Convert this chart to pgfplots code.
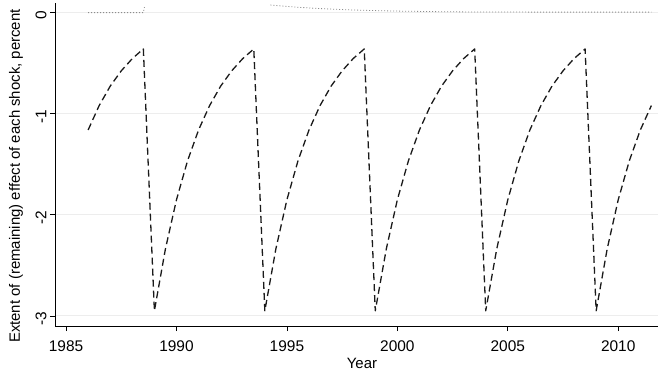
\documentclass[border=0pt]{standalone}
\usepackage{pgfplots}
\pgfplotsset{compat=1.18}
\usepackage{fontspec}
\setmainfont{Liberation Sans}
\definecolor{gridc}{HTML}{EDEDED}
\definecolor{dashc}{HTML}{1A1A1A}
\definecolor{dotc}{HTML}{8C8C8C}
\begin{document}
\begin{tikzpicture}
\useasboundingbox (-55bp,-48bp) rectangle (603bp,326bp);
\begin{axis}[
  scale only axis,
  width=603bp, height=323bp,
  xmin=1984.5, xmax=2011.8,
  ymin=-3.1, ymax=0.09,
  axis x line*=bottom, axis y line*=left,
  axis line style={black, line width=0.9bp, -},
  xtick={1985,1990,...,2010},
  ytick={-3,-2,-1,0},
  tick align=outside,
  major tick length=5bp,
  tick style={black, line width=0.7bp},
  ymajorgrids,
  grid style={gridc, line width=0.8bp},
  /pgf/number format/assume math mode=true,
  /pgf/number format/1000 sep={},
  ticklabel style={font=\fontsize{15.5}{18}\selectfont},
  xticklabel style={yshift=-6bp},
  yticklabel style={rotate=90, anchor=south, xshift=-3bp},
  xlabel={Year},
  ylabel={Extent of (remaining) effect of each shock, percent},
  label style={font=\fontsize{15}{18}\selectfont},
  xlabel style={at={(axis description cs:0.509,-0.1146)}, anchor=center},
  ylabel style={at={(axis description cs:-0.0647,0.464)}, anchor=center, rotate=0},
  clip=false,
]
% dotted series (near zero)
\addplot[dotc, line width=0.8bp, dash pattern=on 1bp off 2bp] coordinates {
 (1986.0,-0.005) (1986.5,-0.005) (1987.0,-0.005) (1987.5,-0.005) (1988.0,-0.005) (1988.5,-0.005) (1988.55,0.05)
};
\addplot[dotc, line width=0.8bp, dash pattern=on 1bp off 2bp] coordinates {
 (1994.25,0.070) (1994.5,0.065) (1995.0,0.056) (1995.5,0.048) (1996.0,0.041) (1996.5,0.035)
 (1997.0,0.030) (1997.5,0.025) (1998.0,0.021) (1998.5,0.018) (1999.0,0.015) (2000.0,0.010)
 (2001.0,0.007) (2002.0,0.004) (2003.0,0.002) (2004.0,0.001) (2006.0,0.0) (2011.5,0.0)
};
% dashed sawtooth series
\addplot[dashc, line width=1.3bp, line join=round, line cap=butt, dash pattern=on 7bp off 4bp] coordinates {
 (1986.0,-1.164) (1986.5,-0.923) (1987.0,-0.731) (1987.5,-0.580) (1988.0,-0.459) (1988.5,-0.364)
 (1989.0,-2.950) (1989.5,-2.338) (1990.0,-1.853) (1990.5,-1.469) (1991.0,-1.164) (1991.5,-0.923)
 (1992.0,-0.731) (1992.5,-0.580) (1993.0,-0.459) (1993.5,-0.364)
 (1994.0,-2.950) (1994.5,-2.338) (1995.0,-1.853) (1995.5,-1.469) (1996.0,-1.164) (1996.5,-0.923)
 (1997.0,-0.731) (1997.5,-0.580) (1998.0,-0.459) (1998.5,-0.364)
 (1999.0,-2.950) (1999.5,-2.338) (2000.0,-1.853) (2000.5,-1.469) (2001.0,-1.164) (2001.5,-0.923)
 (2002.0,-0.731) (2002.5,-0.580) (2003.0,-0.459) (2003.5,-0.364)
 (2004.0,-2.950) (2004.5,-2.338) (2005.0,-1.853) (2005.5,-1.469) (2006.0,-1.164) (2006.5,-0.923)
 (2007.0,-0.731) (2007.5,-0.580) (2008.0,-0.459) (2008.5,-0.364)
 (2009.0,-2.950) (2009.5,-2.338) (2010.0,-1.853) (2010.5,-1.469) (2011.0,-1.164) (2011.5,-0.923)
};
\end{axis}
\end{tikzpicture}
\end{document}
